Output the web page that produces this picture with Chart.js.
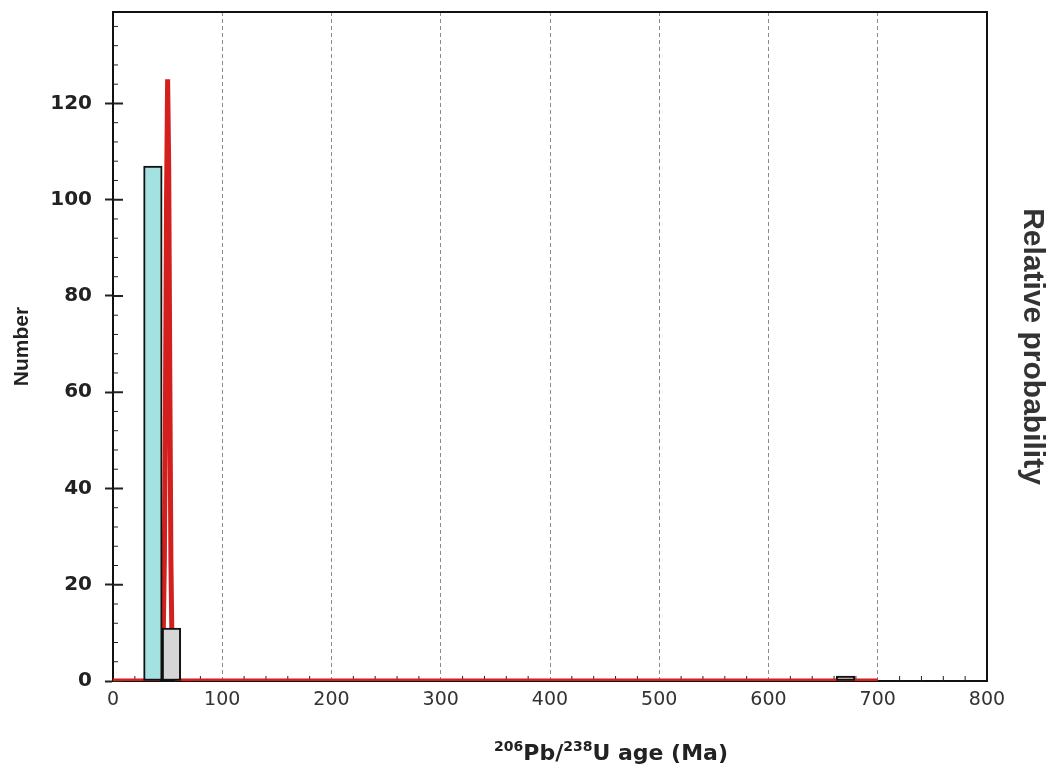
<!DOCTYPE html>
<html>
<head>
<meta charset="utf-8">
<script src="https://cdn.jsdelivr.net/npm/chart.js@4.4.1/dist/chart.umd.min.js"></script>
<style>
body { margin: 0; background: #fff; }
</style>
</head>
<body>
<canvas id="agechart" width="1056" height="774"></canvas>
<script>
// histogram: bin centres (Ma), counts, fill colours
var binCentres = [36.5, 53.5, 670.5];
var binCounts = [107, 11, 1];
var binColours = ['#a4e1e1', '#d6d6d6', '#d0d0d0'];

// relative probability curve (peak = 1)
var pdfAges = [0, 40, 44, 46, 47, 48, 49, 50, 51, 52, 53, 54, 56, 60, 700];
var pdfValues = [0, 0, 0.01, 0.08, 0.2, 0.45, 0.8, 1.0, 0.85, 0.5, 0.2, 0.06, 0.01, 0, 0];

// tick labels
var ageTicks = [0, 100, 200, 300, 400, 500, 600, 700, 800];
var numberTicks = [0, 20, 40, 60, 80, 100, 120];

var xTitleParts = [['206', true], ['Pb/', false], ['238', true], ['U age (Ma)', false]];

var frame = {
  id: 'frame',
  beforeDatasetsDraw: function(chart) {
    var ctx = chart.ctx, a = chart.chartArea;
    var xs = chart.scales.x, ys = chart.scales.y;
    ctx.save();
    ctx.strokeStyle = '#222';
    // minor ticks, inside the plot
    ctx.lineWidth = 1;
    ctx.beginPath();
    for (var v = 4; v <= 136; v += 4) {
      if (v % 20 === 0) continue;
      var py = ys.getPixelForValue(v);
      ctx.moveTo(a.left, py); ctx.lineTo(a.left + 5, py);
    }
    for (var t = 20; t < 800; t += 20) {
      if (t % 100 === 0) continue;
      var px = xs.getPixelForValue(t);
      ctx.moveTo(px, a.bottom); ctx.lineTo(px, a.bottom - 5);
    }
    ctx.stroke();
    ctx.lineWidth = 2;
    ctx.beginPath();
    numberTicks.forEach(function(n) {
      var py = ys.getPixelForValue(n);
      ctx.moveTo(a.left, py); ctx.lineTo(a.left + 10, py);
    });
    ctx.stroke();
    ctx.restore();
  },
  afterDraw: function(chart) {
    var ctx = chart.ctx, a = chart.chartArea;
    ctx.save();
    ctx.strokeStyle = '#111';
    ctx.lineWidth = 2;
    ctx.beginPath();
    ctx.moveTo(a.left - 1, a.top); ctx.lineTo(a.right + 1, a.top);
    ctx.stroke();

    // x axis title with superscripts
    var big = 'bold 22px "DejaVu Sans"', small = 'bold 14px "DejaVu Sans"';
    var total = 0;
    xTitleParts.forEach(function(p) {
      ctx.font = p[1] ? small : big;
      total += ctx.measureText(p[0]).width;
    });
    var x = 611 - total / 2;
    ctx.fillStyle = '#222';
    ctx.textBaseline = 'alphabetic';
    xTitleParts.forEach(function(p) {
      ctx.font = p[1] ? small : big;
      ctx.fillText(p[0], x, p[1] ? 751 : 760);
      x += ctx.measureText(p[0]).width;
    });
    ctx.restore();
  }
};

function noPad(s) {
  s.paddingTop = 0;
  s.paddingBottom = 0;
}

new Chart(document.getElementById('agechart'), {
  type: 'bar',
  data: {
    datasets: [{
      type: 'bar',
      data: binCentres.map(function(c, i) { return {x: c, y: binCounts[i]}; }),
      backgroundColor: binColours,
      borderColor: '#111',
      borderWidth: 2,
      borderSkipped: false,
      barPercentage: 1,
      categoryPercentage: 1,
      yAxisID: 'y',
      order: 0
    }, {
      type: 'line',
      data: pdfAges.map(function(a, i) { return {x: a, y: pdfValues[i]}; }),
      borderColor: '#d41f1f',
      borderWidth: 5,
      pointRadius: 0,
      tension: 0,
      yAxisID: 'y2',
      order: 1
    }]
  },
  options: {
    responsive: false,
    animation: false,
    layout: { padding: { top: 12 } },
    plugins: {
      legend: { display: false },
      tooltip: { enabled: false }
    },
    scales: {
      x: {
        type: 'linear',
        min: 0,
        max: 800,
        offset: false,
        afterBuildTicks: function(axis) {
          axis.ticks = ageTicks.map(function(v) { return {value: v}; });
        },
        afterFit: function(s) { s.height = 93; },
        ticks: {
          padding: 8,
          color: '#333',
          font: { family: 'DejaVu Sans', size: 19 }
        },
        grid: {
          offset: false,
          drawTicks: false,
          lineWidth: 1,
          color: function(c) {
            var v = c.tick && c.tick.value;
            return (v > 0 && v < 800) ? '#8a8a8a' : 'rgba(0,0,0,0)';
          }
        },
        border: { color: '#111', width: 2, dash: [4, 3] }
      },
      y: {
        position: 'left',
        min: 0,
        max: 139,
        afterBuildTicks: function(axis) {
          axis.ticks = numberTicks.map(function(v) { return {value: v}; });
        },
        afterFit: function(s) { s.width = 113; noPad(s); },
        ticks: {
          padding: 13,
          color: '#222',
          font: { family: 'DejaVu Sans', size: 20, weight: 'bold' }
        },
        grid: {
          drawOnChartArea: false,
          tickLength: 8,
          tickWidth: 2,
          tickColor: '#222'
        },
        border: { color: '#111', width: 2 },
        title: {
          display: true,
          text: 'Number',
          color: '#222',
          padding: { top: 10, bottom: 0 },
          font: { family: 'Liberation Sans', size: 21, weight: 'bold' }
        }
      },
      y2: {
        position: 'right',
        min: 0,
        max: 1.112,
        afterFit: function(s) { s.width = 69; noPad(s); },
        ticks: { display: false },
        grid: { drawOnChartArea: false, drawTicks: false },
        border: { color: '#111', width: 2 },
        title: {
          display: true,
          text: 'Relative probability',
          color: '#333',
          padding: { top: 6, bottom: 0 },
          font: { family: 'Liberation Sans', size: 30, weight: 'bold' }
        }
      }
    }
  },
  plugins: [frame]
});
</script>
</body>
</html>
